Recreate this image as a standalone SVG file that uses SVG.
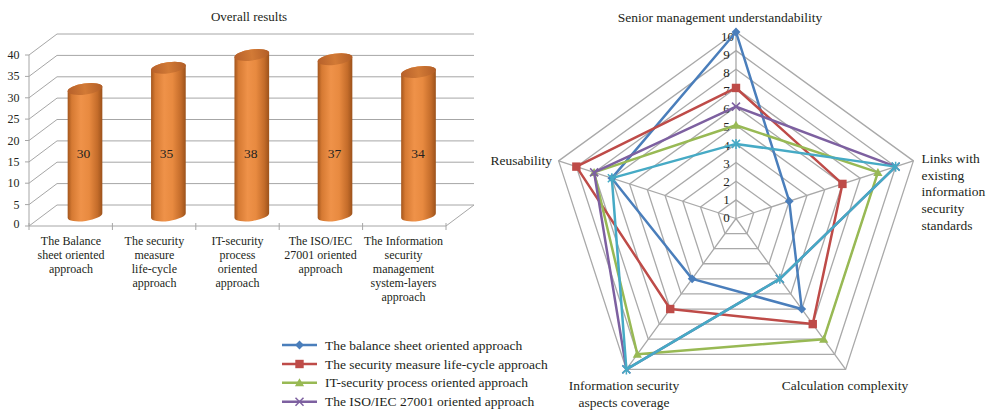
<svg xmlns="http://www.w3.org/2000/svg" width="994" height="411" viewBox="0 0 994 411">
<style>
text{font-family:"Liberation Serif","Times New Roman",serif;fill:#231f20}
.t12{font-size:12px}
.t13{font-size:13px}
.t135{font-size:13.5px}
.mid{text-anchor:middle}
.end{text-anchor:end}
.grid{stroke:#a6a6a6;stroke-width:1;fill:none}
.rgrid{stroke:#a9a9a9;stroke-width:1.3;fill:none}
.cyl{fill:url(#gBody)}
.cap{fill:url(#gCap)}
.ser{fill:none;stroke-width:2.5;stroke-linejoin:round}
</style>
<defs>
<linearGradient id="gBody" x1="0" y1="0" x2="1" y2="0">
<stop offset="0" stop-color="#a3551c"/>
<stop offset="0.12" stop-color="#d67a33"/>
<stop offset="0.38" stop-color="#ef9249"/>
<stop offset="0.62" stop-color="#e88a40"/>
<stop offset="0.86" stop-color="#c46c2a"/>
<stop offset="1" stop-color="#9c521b"/>
</linearGradient>
<linearGradient id="gCap" x1="0" y1="0" x2="1" y2="0">
<stop offset="0" stop-color="#b6602a"/>
<stop offset="0.5" stop-color="#d27a36"/>
<stop offset="1" stop-color="#b25e27"/>
</linearGradient>
<marker id="mDia" markerUnits="userSpaceOnUse" markerWidth="12" markerHeight="12" refX="6" refY="6" overflow="visible"><path d="M6 1.6L10.4 6L6 10.4L1.6 6Z" fill="#4a7ebb"/></marker>
<marker id="mSq" markerUnits="userSpaceOnUse" markerWidth="12" markerHeight="12" refX="6" refY="6" overflow="visible"><rect x="1.8" y="1.8" width="8.4" height="8.4" fill="#be4b48"/></marker>
<marker id="mTri" markerUnits="userSpaceOnUse" markerWidth="12" markerHeight="12" refX="6" refY="6" overflow="visible"><path d="M6 1.5L10.6 9.5L1.4 9.5Z" fill="#98b954"/></marker>
<marker id="mX" markerUnits="userSpaceOnUse" markerWidth="12" markerHeight="12" refX="6" refY="6" overflow="visible"><path d="M2 2L10 10M10 2L2 10" stroke="#7d60a0" stroke-width="1.5"/></marker>
<marker id="mStar" markerUnits="userSpaceOnUse" markerWidth="12" markerHeight="12" refX="6" refY="6" overflow="visible"><path d="M2 2L10 10M10 2L2 10M6 1L6 11" stroke="#46aac5" stroke-width="1.5"/></marker>
</defs>
<rect width="994" height="411" fill="#ffffff"/>

<!-- Bar chart -->
<g id="barchart-frame">
<text class="t13 mid" x="249" y="20.5">Overall results</text>
<g class="grid">
<path d="M57 34H474M57 55.4H474M57 76.8H474M57 98.1H474M57 119.5H474M57 140.9H474M57 162.2H474M57 183.6H474M57 205H474"/>
<path d="M29 55L57 34M29 76.4L57 55.4M29 97.8L57 76.8M29 119.1L57 98.1M29 140.5L57 119.5M29 161.9L57 140.9M29 183.2L57 162.2M29 204.6L57 183.6M29 226L57 205"/>
<path d="M446 226L474 205"/>
<path d="M29 55V226H446"/>
<path d="M25 55H29M25 76.4H29M25 97.8H29M25 119.1H29M25 140.5H29M25 161.9H29M25 183.2H29M25 204.6H29M25 226H29"/>
<path d="M29 223V230M112.4 223V230M195.8 223V230M279.2 223V230M362.6 223V230M446 223V230"/>
</g>
<g class="t12 end">
<text x="19.5" y="59">40</text>
<text x="19.5" y="80.4">35</text>
<text x="19.5" y="101.8">30</text>
<text x="19.5" y="123.1">25</text>
<text x="19.5" y="144.5">20</text>
<text x="19.5" y="165.9">15</text>
<text x="19.5" y="187.2">10</text>
<text x="19.5" y="208.6">5</text>
<text x="19.5" y="228">0</text>
</g>
</g>

<g id="bar1" transform="translate(85,0)">
<path class="cyl" d="M-17.33 91.44L-17.33 217.94A17.5 5.5 -8 0 0 17.33 213.06L17.33 86.56A17.5 5.5 -8 0 0 -17.33 91.44Z"/>
<ellipse class="cap" cx="0" cy="89" rx="17.5" ry="5.5" transform="rotate(-8 0 89)"/>
<text class="t135 mid" x="-1.5" y="157.5">30</text>
</g>
<g id="bar2" transform="translate(168.4,0)">
<path class="cyl" d="M-17.33 70.19L-17.33 217.94A17.5 5.5 -8 0 0 17.33 213.06L17.33 65.31A17.5 5.5 -8 0 0 -17.33 70.19Z"/>
<ellipse class="cap" cx="0" cy="67.75" rx="17.5" ry="5.5" transform="rotate(-8 0 67.75)"/>
<text class="t135 mid" x="-2" y="157.5">35</text>
</g>
<g id="bar3" transform="translate(251.8,0)">
<path class="cyl" d="M-17.33 57.44L-17.33 217.94A17.5 5.5 -8 0 0 17.33 213.06L17.33 52.56A17.5 5.5 -8 0 0 -17.33 57.44Z"/>
<ellipse class="cap" cx="0" cy="55" rx="17.5" ry="5.5" transform="rotate(-8 0 55)"/>
<text class="t135 mid" x="-1" y="157.5">38</text>
</g>
<g id="bar4" transform="translate(335,0)">
<path class="cyl" d="M-17.33 61.69L-17.33 217.94A17.5 5.5 -8 0 0 17.33 213.06L17.33 56.81A17.5 5.5 -8 0 0 -17.33 61.69Z"/>
<ellipse class="cap" cx="0" cy="59.25" rx="17.5" ry="5.5" transform="rotate(-8 0 59.25)"/>
<text class="t135 mid" x="-0.5" y="157.5">37</text>
</g>
<g id="bar5" transform="translate(418.5,0)">
<path class="cyl" d="M-17.33 74.44L-17.33 217.94A17.5 5.5 -8 0 0 17.33 213.06L17.33 69.56A17.5 5.5 -8 0 0 -17.33 74.44Z"/>
<ellipse class="cap" cx="0" cy="72" rx="17.5" ry="5.5" transform="rotate(-8 0 72)"/>
<text class="t135 mid" x="-0.5" y="157.5">34</text>
</g>

<g id="categories" class="t12 mid">
<text x="71" y="244.5">The Balance</text>
<text x="71" y="258.7">sheet oriented</text>
<text x="71" y="273">approach</text>
<text x="154.4" y="244.5">The security</text>
<text x="154.4" y="258.7">measure</text>
<text x="154.4" y="273">life-cycle</text>
<text x="154.4" y="287.2">approach</text>
<text x="237.5" y="244.5">IT-security</text>
<text x="237.5" y="258.7">process</text>
<text x="237.5" y="273">oriented</text>
<text x="237.5" y="287.2">approach</text>
<text x="320.5" y="244.5">The ISO/IEC</text>
<text x="320.5" y="258.7">27001 oriented</text>
<text x="320.5" y="273">approach</text>
<text x="403.5" y="244.5">The Information</text>
<text x="403.5" y="258.7">security</text>
<text x="403.5" y="273">management</text>
<text x="403.5" y="287.2">system-layers</text>
<text x="403.5" y="301.4">approach</text>
</g>

<!-- Radar chart -->
<g id="radar-grid" class="rgrid">
<polygon points="736,199.85 753.74,212.74 746.96,233.59 725.04,233.59 718.26,212.74"/>
<polygon points="736,181.2 771.48,206.97 757.92,248.68 714.08,248.68 700.52,206.97"/>
<polygon points="736,162.55 789.21,201.21 768.89,263.76 703.11,263.76 682.79,201.21"/>
<polygon points="736,143.9 806.95,195.45 779.85,278.85 692.15,278.85 665.05,195.45"/>
<polygon points="736,125.25 824.69,189.69 790.81,293.94 681.19,293.94 647.31,189.69"/>
<polygon points="736,106.6 842.43,183.92 801.77,309.03 670.23,309.03 629.57,183.92"/>
<polygon points="736,87.95 860.17,178.16 812.74,324.11 659.26,324.11 611.83,178.16"/>
<polygon points="736,69.3 877.9,172.4 823.7,339.2 648.3,339.2 594.1,172.4"/>
<polygon points="736,50.65 895.64,166.63 834.66,354.29 637.34,354.29 576.36,166.63"/>
<polygon points="736,32 913.38,160.87 845.63,369.38 626.37,369.38 558.62,160.87"/>
<path d="M736 218.5V32M736 218.5L913.38 160.87M736 218.5L845.63 369.38M736 218.5L626.37 369.38M736 218.5L558.62 160.87"/>
</g>
<g id="radar-scale" class="t13 mid">
<text x="726.5" y="221.8">0</text>
<text x="726.5" y="203.7">1</text>
<text x="726.5" y="185.6">2</text>
<text x="726.5" y="167.6">3</text>
<text x="726.5" y="149.5">4</text>
<text x="726.5" y="131.4">5</text>
<text x="726.5" y="113.3">6</text>
<text x="726.5" y="95.2">7</text>
<text x="726.5" y="77.2">8</text>
<text x="726.5" y="59.1">9</text>
<text x="727.5" y="41">10</text>
</g>
<g id="radar-axis-labels" class="t135">
<text class="mid" x="720" y="21.5">Senior management understandability</text>
<text class="end" x="552" y="164.5">Reusability</text>
<text x="921.5" y="162.8">Links with</text>
<text x="921.5" y="179.5">existing</text>
<text x="921.5" y="196.2">information</text>
<text x="921.5" y="212.8">security</text>
<text x="921.5" y="229.5">standards</text>
<text class="mid" x="845" y="389.5">Calculation complexity</text>
<text class="mid" x="624" y="389.5">Information security</text>
<text class="mid" x="624" y="406.8">aspects coverage</text>
</g>
<g id="radar-series">
<polygon id="s-balance" class="ser" stroke="#4a7ebb" marker-start="url(#mDia)" marker-mid="url(#mDia)" points="736,32 789.21,201.21 801.77,309.03 692.15,278.85 611.83,178.16"/>
<polygon id="s-lifecycle" class="ser" stroke="#be4b48" marker-start="url(#mSq)" marker-mid="url(#mSq)" points="736,87.95 842.43,183.92 812.74,324.11 670.23,309.03 576.36,166.63"/>
<polygon id="s-itsec" class="ser" stroke="#98b954" marker-start="url(#mTri)" marker-mid="url(#mTri)" points="736,125.25 877.9,172.4 823.7,339.2 637.34,354.29 594.1,172.4"/>
<polygon id="s-iso" class="ser" stroke="#7d60a0" marker-start="url(#mX)" marker-mid="url(#mX)" points="736,106.6 895.64,166.63 779.85,278.85 626.37,369.38 594.1,172.4"/>
<polygon id="s-layers" class="ser" stroke="#46aac5" marker-start="url(#mStar)" marker-mid="url(#mStar)" points="736,143.9 895.64,166.63 779.85,278.85 626.37,369.38 611.83,178.16"/>
</g>

<g id="legend">
<polyline class="ser" stroke="#4a7ebb" marker-mid="url(#mDia)" points="282,345 299.5,345 317,345"/>
<polyline class="ser" stroke="#be4b48" marker-mid="url(#mSq)" points="282,364 299.5,364 317,364"/>
<polyline class="ser" stroke="#98b954" marker-mid="url(#mTri)" points="282,382.7 299.5,382.7 317,382.7"/>
<polyline class="ser" stroke="#7d60a0" marker-mid="url(#mX)" points="282,401.7 299.5,401.7 317,401.7"/>
<g class="t135">
<text x="325" y="349.5">The balance sheet oriented approach</text>
<text x="325" y="368.5">The security measure life-cycle approach</text>
<text x="325" y="387.2">IT-security process oriented approach</text>
<text x="325" y="406.2">The ISO/IEC 27001 oriented approach</text>
</g>
</g>
</svg>
